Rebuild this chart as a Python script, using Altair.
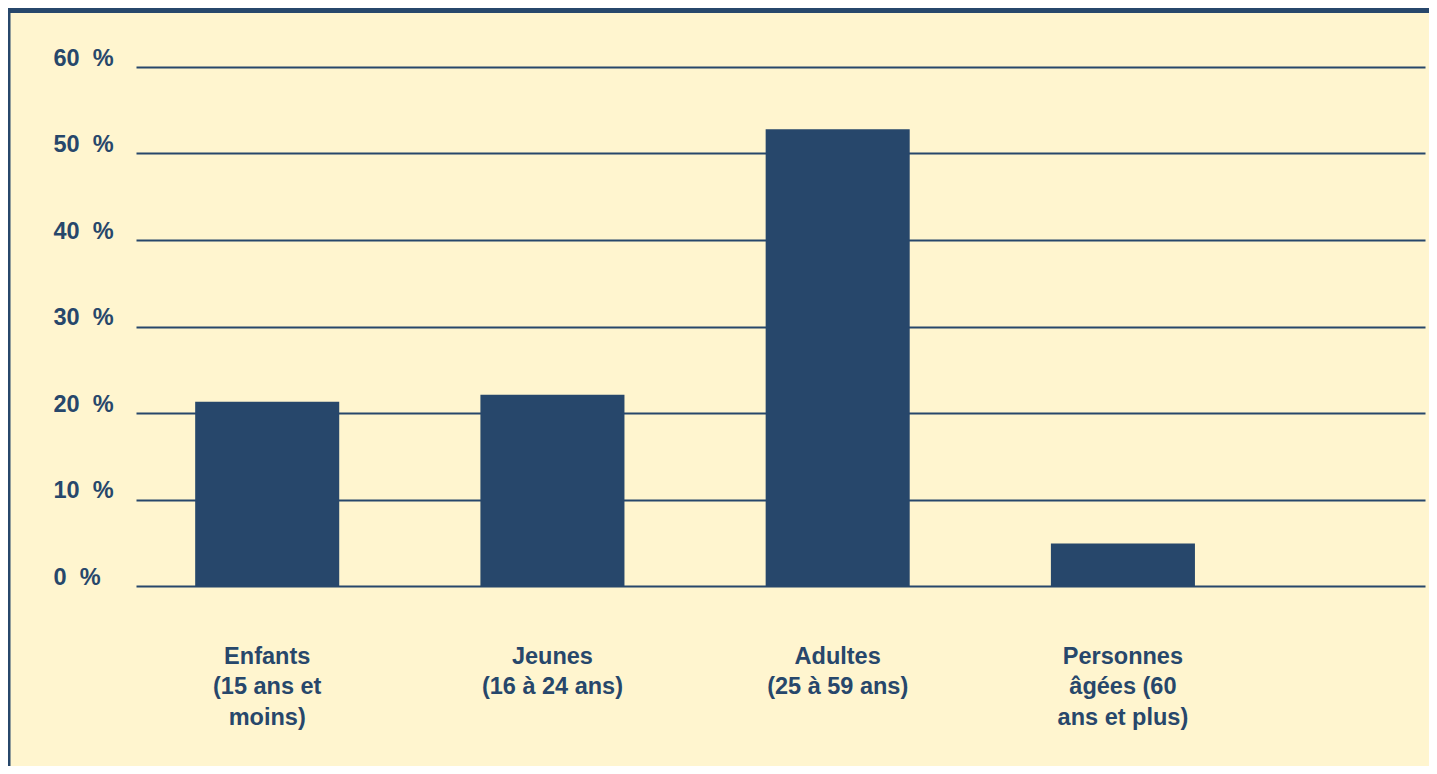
import altair as alt
import pandas as pd

categories = [
    "Enfants\n(15 ans et\nmoins)",
    "Jeunes\n(16 à 24 ans)",
    "Adultes\n(25 à 59 ans)",
    "Personnes\nâgées (60\nans et plus)",
]
shares = [21.3, 22.1, 52.8, 4.9]
y_ticks = [0, 10, 20, 30, 40, 50, 60]

NAVY = "#27476B"
CREAM = "#FFF5CF"
FONT = "Liberation Sans"

df = pd.DataFrame({"groupe": categories, "part": shares})
deco = alt.Data(values=[{"k": 1}])

W, H = 1289, 519
PAD = {"left": 128, "top": 59, "right": 4, "bottom": 180}

top_band = alt.Chart(deco).mark_rect(color=NAVY).encode(
    x=alt.value(-PAD["left"]), x2=alt.value(W + PAD["right"]),
    y=alt.value(-PAD["top"]), y2=alt.value(-PAD["top"] + 5),
)
left_border = alt.Chart(deco).mark_rect(color=NAVY).encode(
    x=alt.value(-PAD["left"]), x2=alt.value(-PAD["left"] + 2.5),
    y=alt.value(-PAD["top"]), y2=alt.value(H + PAD["bottom"]),
)

bars = alt.Chart(df).mark_bar(color=NAVY).encode(
    x=alt.X(
        "groupe:N", sort=categories, title=None,
        scale=alt.Scale(paddingInner=0.495, paddingOuter=0.507, align=0.2046),
        axis=alt.Axis(
            labelExpr="split(datum.label, '\\n')",
            labelAngle=0, labelAlign="center", labelBaseline="top",
            labelPadding=58, labelLineHeight=30.5,
            ticks=False, tickSize=0, domain=False,
            labelFont=FONT, labelFontSize=23.5, labelFontWeight="bold",
            labelColor=NAVY, labelLimit=400,
        ),
    ),
    y=alt.Y(
        "part:Q", title=None,
        scale=alt.Scale(domain=[0, 60], nice=False),
        axis=alt.Axis(
            values=y_ticks,
            labelExpr="datum.value + '\u00a0\u00a0%'",
            grid=True, gridColor=NAVY, gridWidth=2, gridOpacity=1,
            ticks=False, tickSize=0, domain=False,
            labelAlign="left", labelBaseline="alphabetic",
            labelPadding=83, labelOffset=-2,
            labelFont=FONT, labelFontSize=23.5, labelFontWeight="bold",
            labelColor=NAVY,
        ),
    ),
)

chart = (
    alt.layer(top_band, left_border, bars)
    .properties(
        width=W, height=H, padding=PAD,
        autosize=alt.AutoSizeParams(type="none"),
        background=CREAM,
    )
    .configure_view(stroke=None)
)

chart.save("out.html", embed_options={"renderer": "svg", "actions": False})
